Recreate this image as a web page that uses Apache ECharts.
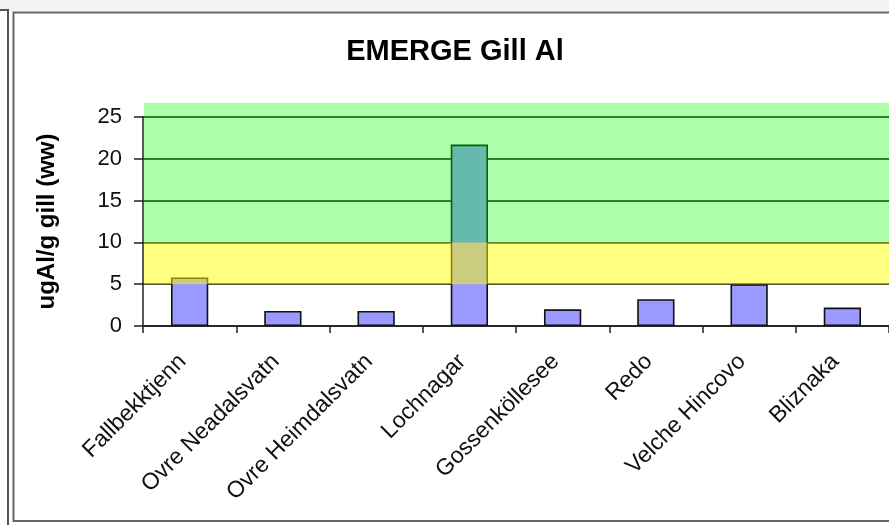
<!DOCTYPE html>
<html>
<head>
<meta charset="utf-8">
<script src="https://cdn.jsdelivr.net/npm/echarts@6/dist/echarts.min.js"></script>
<style>
  html, body { margin: 0; padding: 0; background: #ffffff; }
  #chart { width: 889px; height: 525px; }
</style>
</head>
<body>
<div id="chart"></div>
<script>
// Lakes sampled and their gill aluminium content (ug Al / g gill, wet weight)
const lakes = ['Fallbekktjenn', 'Ovre Neadalsvatn', 'Ovre Heimdalsvatn', 'Lochnagar',
               'Gossenköllesee', 'Redo', 'Velche Hincovo', 'Bliznaka'];
const gillAl = [5.8, 1.8, 1.8, 21.7, 2.0, 3.2, 5.0, 2.2];

// Y axis ticks
const yTicks = [0, 5, 10, 15, 20, 25];

// Shaded concentration bands [from, to]
const bandYellow = [5, 10];
const bandGreen = [10, 26.7];

const GRID_LEFT = 143, GRID_RIGHT = 0, GRID_TOP = 117, GRID_BOTTOM = 199;
const W = 889, H = 525;
const FONT = 'Liberation Sans, Arial, sans-serif';

const chart = echarts.init(document.getElementById('chart'), null, { renderer: 'canvas' });

const frame = [
  { type: 'rect', shape: { x: 0, y: 0, width: W, height: 11 }, style: { fill: '#f3f3f3' }, z: 0 },
  { type: 'polyline', shape: { points: [[0, 10], [8, 10], [8, H]] },
    style: { stroke: '#555', lineWidth: 2, fill: null }, z: 0 },
  { type: 'rect', shape: { x: 13.5, y: 12.5, width: W, height: 508.5 },
    style: { stroke: '#666', lineWidth: 2, fill: null }, z: 0 }
];

chart.setOption({
  animation: false,
  backgroundColor: '#ffffff',
  title: {
    text: 'EMERGE Gill Al',
    left: 450,
    textAlign: 'center',
    top: 32,
    textStyle: { fontFamily: FONT, fontSize: 29, fontWeight: 'bold', color: '#000' }
  },
  grid: { left: GRID_LEFT, right: GRID_RIGHT, top: GRID_TOP, bottom: GRID_BOTTOM },
  xAxis: {
    type: 'category',
    data: lakes,
    axisLine: { lineStyle: { color: '#222', width: 1.5 } },
    axisTick: { show: true, length: 7, lineStyle: { color: '#222', width: 1.5 } },
    axisLabel: {
      rotate: 45,
      interval: 0,
      margin: 25,
      padding: [0, 10, 0, 0],
      fontFamily: FONT,
      fontSize: 23,
      color: '#111'
    }
  },
  yAxis: {
    type: 'value',
    min: yTicks[0],
    max: yTicks[yTicks.length - 1],
    interval: yTicks[1] - yTicks[0],
    name: 'ugAl/g gill (ww)',
    nameLocation: 'middle',
    nameGap: 84,
    nameTextStyle: { fontFamily: FONT, fontSize: 24, fontWeight: 'bold', color: '#000' },
    axisLine: { show: true, lineStyle: { color: '#222', width: 1.5 } },
    axisTick: { show: true, length: 9, lineStyle: { color: '#222', width: 1.5 } },
    axisLabel: { margin: 21, fontFamily: FONT, fontSize: 22, color: '#111' },
    splitLine: { show: true, lineStyle: { color: '#000', width: 1.6 } }
  },
  series: [{
    type: 'bar',
    data: gillAl,
    barWidth: '40%',
    itemStyle: { color: '#9999ff', borderColor: '#111', borderWidth: 1.6 }
  }],
  graphic: frame
});

// Semi-transparent bands laid over the plot, positioned through the y scale
function bandRect(range, color) {
  const y1 = chart.convertToPixel({ yAxisIndex: 0 }, range[1]);
  const y0 = chart.convertToPixel({ yAxisIndex: 0 }, range[0]);
  return {
    type: 'rect',
    shape: { x: GRID_LEFT + 1, y: y1, width: W - GRID_RIGHT - GRID_LEFT - 1, height: y0 - y1 },
    style: { fill: color },
    z: 50
  };
}

chart.setOption({
  graphic: frame.concat([
    bandRect(bandGreen, 'rgba(0,255,0,0.33)'),
    bandRect(bandYellow, 'rgba(255,255,0,0.5)')
  ])
});
</script>
</body>
</html>
